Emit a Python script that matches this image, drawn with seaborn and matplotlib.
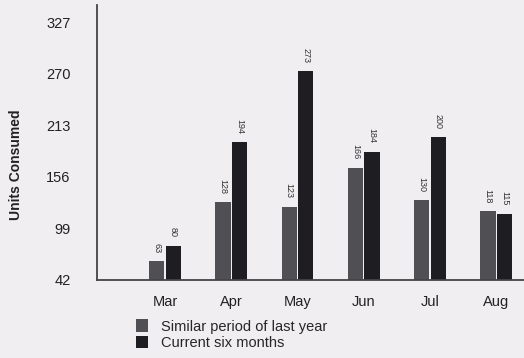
import matplotlib
matplotlib.use("Agg")
import matplotlib.pyplot as plt
import seaborn as sns
import pandas as pd

months = ["Mar", "Apr", "May", "Jun", "Jul", "Aug"]
last_year = [63, 128, 123, 166, 130, 118]
current = [80, 194, 273, 184, 200, 115]
series_names = ["Similar period of last year", "Current six months"]
y_ticks = [42, 99, 156, 213, 270, 327]

sns.set_theme(style="white")
plt.rcParams["font.family"] = ["Liberation Sans", "DejaVu Sans"]

df = pd.DataFrame({
    "month": months * 2,
    "units": last_year + current,
    "series": [series_names[0]] * len(months) + [series_names[1]] * len(months),
})

bg = "#f1eef2"
fig = plt.figure(figsize=(5.24, 3.58), dpi=100, facecolor=bg)
ax = fig.add_axes([0.185, 0.218, 0.815, 0.768], facecolor=bg)

sns.barplot(data=df, x="month", y="units", hue="series", order=months,
            hue_order=series_names, palette=["#505054", "#1d1d22"],
            width=0.5, gap=0.08, saturation=1, linewidth=0, ax=ax, legend=True)

for cont in ax.containers:
    ax.bar_label(cont, rotation=-90, padding=6, fontsize=6.5, color="#333333")

ax.set_ylim(42, 346)
ax.set_xlim(-1.03, 5.42)
ax.set_yticks(y_ticks)
ax.tick_params(axis="y", direction="out", length=7, width=1, color="#444444",
               labelsize=10.5, labelcolor="#222222", pad=12)
ax.tick_params(axis="x", length=0, labelsize=10.5, labelcolor="#222222", pad=11)
ax.set_xlabel("")
ax.set_ylabel("")
for s in ["top", "right"]:
    ax.spines[s].set_visible(False)
for s in ["left", "bottom"]:
    ax.spines[s].set_color("#444444")
    ax.spines[s].set_linewidth(1.3)

handles, labels = ax.get_legend_handles_labels()
ax.get_legend().remove()
fig.legend(handles, labels, loc="upper left", bbox_to_anchor=(0.245, 0.128),
           frameon=False, fontsize=10.5, handlelength=0.85, handleheight=0.9,
           handletextpad=0.9, labelspacing=0.15, borderpad=0)

fig.text(0.03, 0.54, "Units Consumed", rotation=90, ha="center", va="center",
         fontsize=10, fontweight="bold", color="#222222")

fig.savefig("out.png", dpi=100, facecolor=bg)
